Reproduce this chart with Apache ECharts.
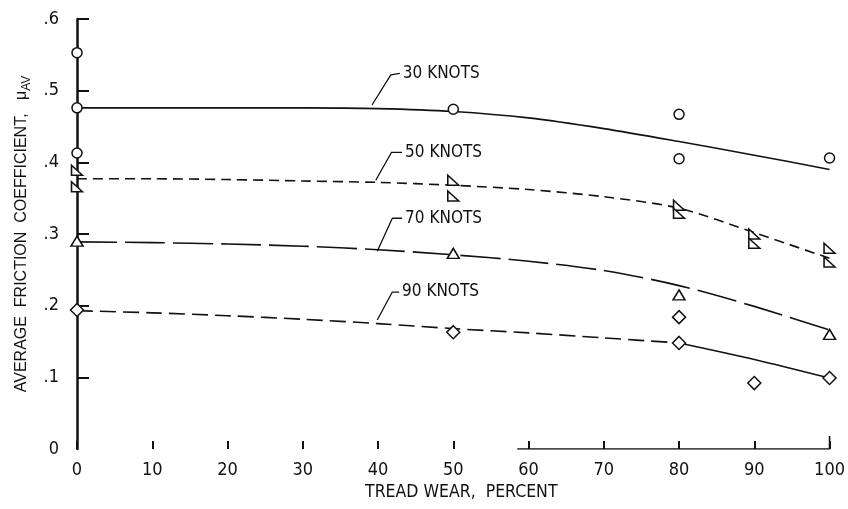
<!DOCTYPE html>
<html>
<head>
<meta charset="utf-8">
<script src="https://cdn.jsdelivr.net/npm/echarts@6/dist/echarts.min.js"></script>
<style>
html,body{margin:0;padding:0;background:#fff;}
#chart{width:848px;height:509px;}
</style>
</head>
<body>
<div id="chart"></div>
<script>
// ---- data ----
const xTickValues = [0,10,20,30,40,50,60,70,80,90,100];
const yTickValues = [0,0.1,0.2,0.3,0.4,0.5,0.6];

// measured points
const wear30 = [0,0,0,50,80,80,100];
const mu30   = [0.553,0.476,0.413,0.474,0.467,0.405,0.406];
const wear50 = [0,0,50,50,80,80,90,90,100,100];
const mu50   = [0.389,0.366,0.375,0.353,0.340,0.329,0.300,0.287,0.280,0.261];
const wear70 = [0,50,80,100];
const mu70   = [0.290,0.273,0.215,0.160];
const wear90 = [0,50,80,80,90,100];
const mu90   = [0.194,0.163,0.184,0.148,0.092,0.099];

// faired curves
const curveX  = [0,10,20,30,40,50,60,70,80,90,100];
const curve30 = [0.476,0.476,0.476,0.476,0.475,0.471,0.462,0.447,0.429,0.410,0.390];
const curve50 = [0.377,0.377,0.376,0.374,0.372,0.368,0.362,0.352,0.336,0.302,0.266];
const curve70 = [0.289,0.288,0.286,0.283,0.278,0.271,0.262,0.249,0.228,0.199,0.166];
const curve90 = [0.193,0.190,0.186,0.181,0.175,0.168,0.162,0.155,0.148,0.125,0.099];

// label leaders (data units)
const labelNames = ['30 KNOTS','50 KNOTS','70 KNOTS','90 KNOTS'];
const leaderX = [[39.2,41.7,42.9],[39.7,41.8,43.2],[39.9,41.9,43.2],[39.9,41.9,42.8]];
const leaderY = [[0.480,0.522,0.524],[0.375,0.414,0.414],[0.276,0.322,0.322],[0.180,0.219,0.219]];

// partial base line at bottom right
const baseX = [58.5,100,100];
const baseY = [0,0,0.018];

// ---- build ----
const FONT = "'Liberation Sans Narrow','DejaVu Sans Condensed','Liberation Sans',sans-serif";
const INK = '#111';
const zip = (a,b) => a.map((v,i)=>[v,b[i]]);

function fitLine(name, xs, ys, type){
  return {type:'line', name, data: zip(xs,ys), showSymbol:false, smooth:0.3,
    lineStyle:{color:INK,width:1.6,type:type}, z:2, silent:true, animation:false};
}
function pts(name, xs, ys, symbol, size){
  return {type:'scatter', name, data: zip(xs,ys), symbol, symbolSize:size,
    itemStyle:{color:'#fff',borderColor:INK,borderWidth:1.5,opacity:1}, z:5, silent:true, animation:false};
}

const series = [
  fitLine('30 fit', curveX, curve30, 'solid'),
  fitLine('50 fit', curveX, curve50, [10,6]),
  fitLine('70 fit', curveX, curve70, [40,8]),
  fitLine('90 fit a', curveX.slice(0,9), curve90.slice(0,9), [16,7]),
  fitLine('90 fit b', curveX.slice(8), curve90.slice(8), 'solid'),
  pts('30 KNOTS', wear30, mu30, 'circle', 10),
  pts('50 KNOTS', wear50, mu50, 'path://M0,0 L0,10 L10,10 Z', [11,10]),
  pts('70 KNOTS', wear70, mu70, 'triangle', [12,10]),
  pts('90 KNOTS', wear90, mu90, 'diamond', 13),
  {type:'line', data: zip(baseX, baseY), showSymbol:false, lineStyle:{color:INK,width:1.6}, silent:true, animation:false}
];
labelNames.forEach((n,i)=>{
  series.push({type:'line', name:n+' leader', data: zip(leaderX[i], leaderY[i]), showSymbol:false,
    lineStyle:{color:INK,width:1.3}, silent:true, animation:false,
    endLabel:{show:true, formatter:n, distance:3, color:INK, fontFamily:FONT, fontSize:17}});
});

const chart = echarts.init(document.getElementById('chart'), null, {renderer:'canvas'});
chart.setOption({
  backgroundColor:'#fff',
  animation:false,
  grid:{left:77,right:16,top:19,bottom:60},
  xAxis:{
    type:'value', min:0, max:100, interval:10,
    axisLine:{show:false},
    axisTick:{show:true, inside:true, length:8, lineStyle:{color:INK,width:2}},
    splitLine:{show:false},
    axisLabel:{color:INK, fontFamily:FONT, fontSize:18, margin:12,
      formatter: v => String(xTickValues.find(t=>t===v) ?? v)},
    name:'TREAD WEAR,  PERCENT', nameLocation:'middle', nameGap:27,
    nameTextStyle:{color:INK, fontFamily:FONT, fontSize:17.5, padding:[0,0,0,16]}
  },
  yAxis:{
    type:'value', min:0, max:0.6, interval:0.1,
    axisLine:{show:true, onZero:false, lineStyle:{color:INK,width:2.5}},
    axisTick:{show:true, inside:true, length:12, lineStyle:{color:INK,width:2},
      customValues: yTickValues.filter(v=>v>0)},
    splitLine:{show:false},
    axisLabel:{color:INK, fontFamily:FONT, fontSize:18, margin:18,
      formatter: v => { const t = yTickValues.find(q=>Math.abs(q-v)<1e-6); return t===0 ? '0' : '.' + Math.round(t*10); }},
    name:'{a|AVERAGE  FRICTION  COEFFICIENT,   μ}{b|AV}', nameLocation:'middle', nameGap:44, nameRotate:90,
    nameTextStyle:{color:INK, rich:{
      a:{fontFamily:"'Liberation Sans',sans-serif", fontSize:16, color:INK, lineHeight:22, verticalAlign:'middle'},
      b:{fontFamily:"'Liberation Sans',sans-serif", fontSize:12, color:INK, lineHeight:22, verticalAlign:'bottom'}
    }}
  },
  series
});
</script>
</body>
</html>
